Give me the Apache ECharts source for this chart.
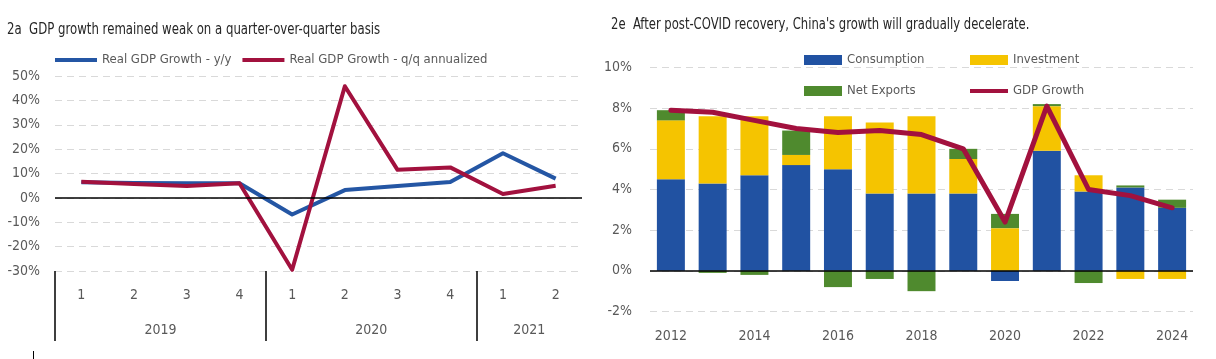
<!DOCTYPE html>
<html><head><meta charset="utf-8">
<script src="https://cdn.jsdelivr.net/npm/echarts@6/dist/echarts.min.js"></script>
<style>html,body{margin:0;padding:0;background:#fff}#c{width:1216px;height:359px}</style>
</head><body><div id="c"></div>
<script>
// ---- Left chart data (2a) ----
var quarters = ['1','2','3','4','1','2','3','4','1','2'];
var quarterYears = ['2019','2019','2019','2019','2020','2020','2020','2020','2021','2021'];
var gdpYoY = [6.4, 6.1, 6.0, 6.0, -6.8, 3.2, 4.9, 6.5, 18.3, 7.9];
var gdpQoQ = [6.6, 5.7, 4.9, 6.0, -29.5, 45.8, 11.5, 12.5, 1.6, 5.0];
var leftTicks = [-30, 50, 10];

// ---- Right chart data (2e) ----
var years = ['2012','2013','2014','2015','2016','2017','2018','2019','2020','2021','2022','2023','2024'];
var consumption = [4.5, 4.3, 4.7, 5.2, 5.0, 3.8, 3.8, 3.8, -0.5, 5.9, 3.9, 4.1, 3.1];
var investment  = [2.9, 3.3, 2.9, 0.5, 2.6, 3.5, 3.8, 1.7, 2.1, 2.2, 0.8, -0.4, -0.4];
var netExports  = [0.5, -0.1, -0.2, 1.2, -0.8, -0.4, -1.0, 0.5, 0.7, 0.1, -0.6, 0.1, 0.4];
var gdpGrowth   = [7.9, 7.8, 7.4, 7.0, 6.8, 6.9, 6.7, 6.0, 2.4, 8.1, 4.0, 3.7, 3.1];
var rightTicks = [-2, 10, 2];

var leftTitle = '2a  GDP growth remained weak on a quarter-over-quarter basis';
var rightTitle = "2e  After post-COVID recovery, China's growth will gradually decelerate.";

// derive year groups from quarterYears
var groupStarts = [], groupCenters = [], groupNames = [];
(function(){
  var i = 0;
  while (i < quarterYears.length) {
    var j = i;
    while (j < quarterYears.length && quarterYears[j] === quarterYears[i]) j++;
    groupStarts.push(i);
    groupCenters.push((i + j) / 2);
    groupNames.push(quarterYears[i]);
    i = j;
  }
})();

var FONT = "'Liberation Sans Narrow','DejaVu Sans Condensed','Roboto',sans-serif";
var LBL = '#595959';
var gridDash = {color:'#d9d9d9', type:[7,5], width:1};
var legText = {fontFamily: FONT, fontSize: 13, color: LBL, lineHeight: 16};

var chart = echarts.init(document.getElementById('c'));
chart.setOption({
  animation: false,
  textStyle: {fontFamily: FONT},
  legend: [
    {data: [{name:'Real GDP Growth - y/y', icon:'rect'}, {name:'Real GDP Growth - q/q annualized', icon:'rect'}],
     left: 50, top: 47, itemWidth: 42, itemHeight: 4, itemGap: 11, textStyle: legText},
    {data: [{name:'Consumption', icon:'rect'}, {name:'Net Exports', icon:'rect'}], orient: 'vertical',
     left: 799, top: 47, itemWidth: 38, itemHeight: 10, itemGap: 15, textStyle: legText},
    {data: [{name:'Investment', icon:'rect'}], orient: 'vertical',
     left: 965, top: 47, itemWidth: 38, itemHeight: 10, textStyle: legText},
    {data: [{name:'GDP Growth', icon:'rect'}], orient: 'vertical',
     left: 965, top: 78, itemWidth: 38, itemHeight: 4, textStyle: legText}
  ],
  grid: [
    {left: 55, right: 634, top: 76, bottom: 88},
    {left: 650, right: 23, top: 67.5, bottom: 47.5}
  ],
  xAxis: [
    {type: 'category', gridIndex: 0, data: quarters, position: 'bottom',
     axisLine: {show: false}, axisTick: {show: false}, splitLine: {show: false},
     axisLabel: {fontFamily: FONT, fontSize: 14, color: LBL, margin: 17}},
    {type: 'value', gridIndex: 0, min: 0, max: quarters.length, position: 'bottom',
     axisLine: {show: false}, splitLine: {show: false},
     axisTick: {show: true, customValues: groupStarts, length: 70, inside: false,
                lineStyle: {color: '#000', width: 1.5}},
     axisLabel: {show: true, customValues: groupCenters, margin: 52, fontFamily: FONT, fontSize: 14, color: LBL,
                 formatter: function(v){ var k = groupCenters.indexOf(v); return k >= 0 ? groupNames[k] : ''; }}},
    {type: 'category', gridIndex: 1, data: years,
     axisLine: {show: false}, axisTick: {show: false}, splitLine: {show: false},
     axisLabel: {interval: 1, fontFamily: FONT, fontSize: 14, color: LBL, margin: 18}}
  ],
  yAxis: [
    {type: 'value', gridIndex: 0, min: leftTicks[0], max: leftTicks[1], interval: leftTicks[2],
     axisLine: {show: false}, axisTick: {show: false},
     splitLine: {show: true, lineStyle: gridDash},
     axisLabel: {fontFamily: FONT, fontSize: 14, color: LBL, margin: 15, formatter: function(v){return v + '%';}}},
    {type: 'value', gridIndex: 1, min: rightTicks[0], max: rightTicks[1], interval: rightTicks[2],
     axisLine: {show: false}, axisTick: {show: false},
     splitLine: {show: true, lineStyle: gridDash},
     axisLabel: {fontFamily: FONT, fontSize: 14, color: LBL, margin: 18, formatter: function(v){return v + '%';}}}
  ],
  series: [
    {name: 'Real GDP Growth - y/y', type: 'line', xAxisIndex: 0, yAxisIndex: 0, data: gdpYoY,
     symbol: 'none', showSymbol: false, color: '#2456a4',
     lineStyle: {width: 4, color: '#2456a4', join: 'round'},
     markLine: {silent: true, symbol: 'none', label: {show: false},
                lineStyle: {color: '#000', type: 'solid', width: 1.5}, data: [{yAxis: 0}]}},
    {name: 'Real GDP Growth - q/q annualized', type: 'line', xAxisIndex: 0, yAxisIndex: 0, data: gdpQoQ,
     symbol: 'none', showSymbol: false, color: '#a2113e',
     lineStyle: {width: 4, color: '#a2113e', join: 'round'}},
    {name: 'Consumption', type: 'bar', stack: 'g', xAxisIndex: 2, yAxisIndex: 1, data: consumption,
     barCategoryGap: '33%', color: '#2152a2', itemStyle: {color: '#2152a2'}},
    {name: 'Investment', type: 'bar', stack: 'g', xAxisIndex: 2, yAxisIndex: 1, data: investment,
     color: '#f5c400', itemStyle: {color: '#f5c400'}},
    {name: 'Net Exports', type: 'bar', stack: 'g', xAxisIndex: 2, yAxisIndex: 1, data: netExports,
     color: '#4f8a2e', itemStyle: {color: '#4f8a2e'},
     markLine: {silent: true, symbol: 'none', label: {show: false},
                lineStyle: {color: '#000', type: 'solid', width: 1.5}, data: [{yAxis: 0}]}},
    {name: 'GDP Growth', type: 'line', xAxisIndex: 2, yAxisIndex: 1, data: gdpGrowth, z: 5,
     symbol: 'none', showSymbol: false, color: '#a2113e',
     lineStyle: {width: 5, color: '#a2113e', join: 'round', cap: 'round'}}
  ],
  graphic: [
    {type: 'text', x: 7, y: 30, scaleX: 0.87,
     style: {text: leftTitle, font: '15px ' + FONT, fill: '#262626', verticalAlign: 'middle'}},
    {type: 'text', x: 611, y: 25, scaleX: 0.86,
     style: {text: rightTitle, font: '15px ' + FONT, fill: '#262626', verticalAlign: 'middle'}},
    {type: 'line', shape: {x1: 33.5, y1: 351, x2: 33.5, y2: 359}, style: {stroke: '#000', lineWidth: 1}}
  ]
});
</script>
</body></html>
